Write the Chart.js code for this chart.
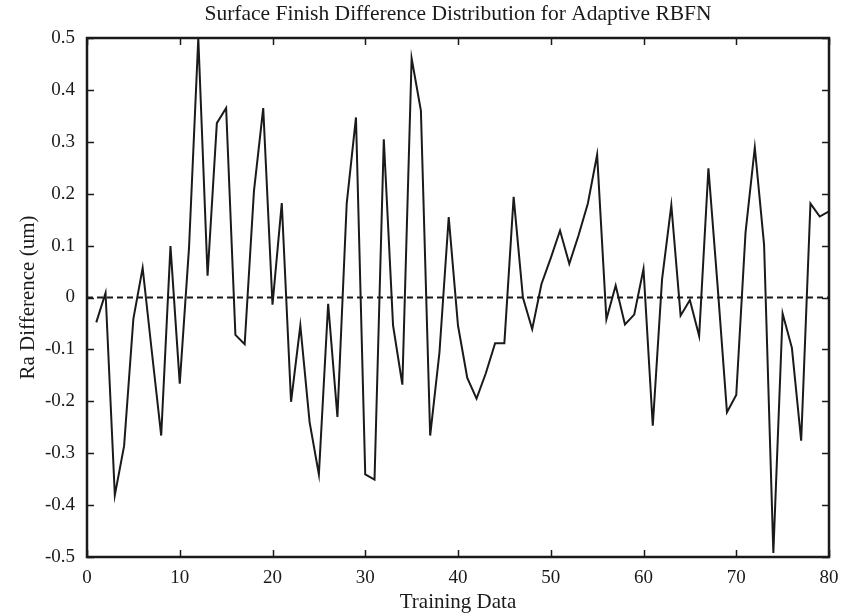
<!DOCTYPE html>
<html>
<head>
<meta charset="utf-8">
<script src="https://cdn.jsdelivr.net/npm/chart.js@4/dist/chart.umd.min.js"></script>
<style>
  html, body { margin: 0; padding: 0; background: #ffffff; }
  #wrap { width: 841px; height: 615px; }
</style>
</head>
<body>
<div id="wrap"><canvas id="c" width="841" height="615"></canvas></div>
<script>
// ---- data ----
const trainingIndex = [1,2,3,4,5,6,7,8,9,10,11,12,13,14,15,16,17,18,19,20,
  21,22,23,24,25,26,27,28,29,30,31,32,33,34,35,36,37,38,39,40,
  41,42,43,44,45,46,47,48,49,50,51,52,53,54,55,56,57,58,59,60,
  61,62,63,64,65,66,67,68,69,70,71,72,73,74,75,76,77,78,79,80];
const raDifference = [-0.048,0.009,-0.381,-0.286,-0.041,0.057,-0.106,-0.266,0.099,-0.166,
  0.096,0.500,0.042,0.336,0.365,-0.072,-0.090,0.205,0.365,-0.014,
  0.182,-0.201,-0.054,-0.240,-0.341,-0.012,-0.230,0.181,0.347,-0.341,
  -0.351,0.305,-0.054,-0.168,0.461,0.360,-0.266,-0.106,0.155,-0.054,
  -0.155,-0.195,-0.146,-0.088,-0.088,0.194,0.000,-0.061,0.026,0.076,
  0.129,0.065,0.120,0.181,0.275,-0.042,0.023,-0.052,-0.033,0.055,
  -0.247,0.035,0.178,-0.035,-0.005,-0.074,0.249,0.020,-0.221,-0.188,
  0.125,0.289,0.102,-0.492,-0.031,-0.097,-0.276,0.181,0.156,0.166];
const zeroLineX = [0, 80];
const zeroLineY = [0, 0];
const xTickValues = [0,10,20,30,40,50,60,70,80];
const yTickValues = [-0.5,-0.4,-0.3,-0.2,-0.1,0,0.1,0.2,0.3,0.4,0.5];
const titleText = 'Surface Finish Difference Distribution for Adaptive RBFN';
const xTitle = 'Training Data';
const yTitle = 'Ra Difference (um)';

const serif = "'Liberation Serif', 'Times New Roman', serif";
const ink = '#1a1a1a';

const whiteBg = {
  id: 'whiteBg',
  beforeDraw(chart) {
    const ctx = chart.ctx;
    ctx.save();
    ctx.fillStyle = '#ffffff';
    ctx.fillRect(0, 0, chart.width, chart.height);
    ctx.restore();
  }
};

// title centred over the plot box (MATLAB style)
const boxTitle = {
  id: 'boxTitle',
  afterDraw(chart) {
    const ctx = chart.ctx;
    const a = chart.chartArea;
    ctx.save();
    ctx.fillStyle = ink;
    ctx.font = "21.5px " + serif;
    ctx.textAlign = 'center';
    ctx.textBaseline = 'middle';
    ctx.fillText(titleText, (a.left + a.right) / 2, 14);
    ctx.restore();
  }
};

const boxAndTicks = {
  id: 'boxAndTicks',
  afterDatasetsDraw(chart) {
    const ctx = chart.ctx;
    const a = chart.chartArea;
    const xs = chart.scales.x, ys = chart.scales.y;
    const len = 7;
    ctx.save();
    ctx.strokeStyle = ink;
    ctx.lineWidth = 1.5;
    ctx.beginPath();
    xs.ticks.forEach(t => {
      const px = Math.round(xs.getPixelForValue(t.value)) + 0.5;
      ctx.moveTo(px, a.bottom); ctx.lineTo(px, a.bottom - len);
      ctx.moveTo(px, a.top); ctx.lineTo(px, a.top + len);
    });
    ys.ticks.forEach(t => {
      const py = Math.round(ys.getPixelForValue(t.value)) + 0.5;
      ctx.moveTo(a.left, py); ctx.lineTo(a.left + len, py);
      ctx.moveTo(a.right, py); ctx.lineTo(a.right - len, py);
    });
    ctx.stroke();
    ctx.lineWidth = 2.5;
    ctx.strokeRect(a.left, a.top, a.right - a.left, a.bottom - a.top);
    ctx.restore();
  }
};

new Chart(document.getElementById('c'), {
  type: 'line',
  data: {
    datasets: [
      {
        data: trainingIndex.map((x, i) => ({ x: x, y: raDifference[i] })),
        borderColor: ink,
        borderWidth: 2,
        pointRadius: 0,
        tension: 0,
        borderJoinStyle: 'miter',
        clip: false
      },
      {
        data: zeroLineX.map((x, i) => ({ x: x, y: zeroLineY[i] })),
        borderColor: ink,
        borderWidth: 2,
        borderDash: [6, 4],
        pointRadius: 0,
        tension: 0
      }
    ]
  },
  options: {
    responsive: false,
    animation: false,
    devicePixelRatio: 1,
    layout: { padding: { left: 0, right: 12, top: 38, bottom: 0 } },
    plugins: {
      legend: { display: false },
      tooltip: { enabled: false },
      title: { display: false }
    },
    scales: {
      x: {
        type: 'linear',
        min: 0, max: 80,
        afterBuildTicks(s) { s.ticks = xTickValues.map(v => ({ value: v })); },
        afterFit(s) { s.height = 58; s.paddingLeft = 0; s.paddingRight = 0; },
        grid: { display: false, drawTicks: false },
        border: { display: false },
        ticks: {
          color: ink,
          padding: 10,
          maxRotation: 0,
          font: { family: serif, size: 19 },
          callback: v => String(v)
        },
        title: {
          display: true,
          text: xTitle,
          color: ink,
          font: { family: serif, size: 21 },
          padding: { top: 0, bottom: 0 }
        }
      },
      y: {
        type: 'linear',
        min: -0.5, max: 0.5,
        afterBuildTicks(s) { s.ticks = yTickValues.map(v => ({ value: v })); },
        afterFit(s) { s.width = 87; s.paddingTop = 0; s.paddingBottom = 0; },
        grid: { display: false, drawTicks: false },
        border: { display: false },
        ticks: {
          color: ink,
          padding: 12,
          font: { family: serif, size: 19 },
          callback: v => String(Math.round(v * 10) / 10)
        },
        title: {
          display: true,
          text: yTitle,
          color: ink,
          font: { family: serif, size: 21 },
          padding: { top: 16, bottom: 0 }
        }
      }
    }
  },
  plugins: [whiteBg, boxAndTicks, boxTitle]
});
</script>
</body>
</html>
